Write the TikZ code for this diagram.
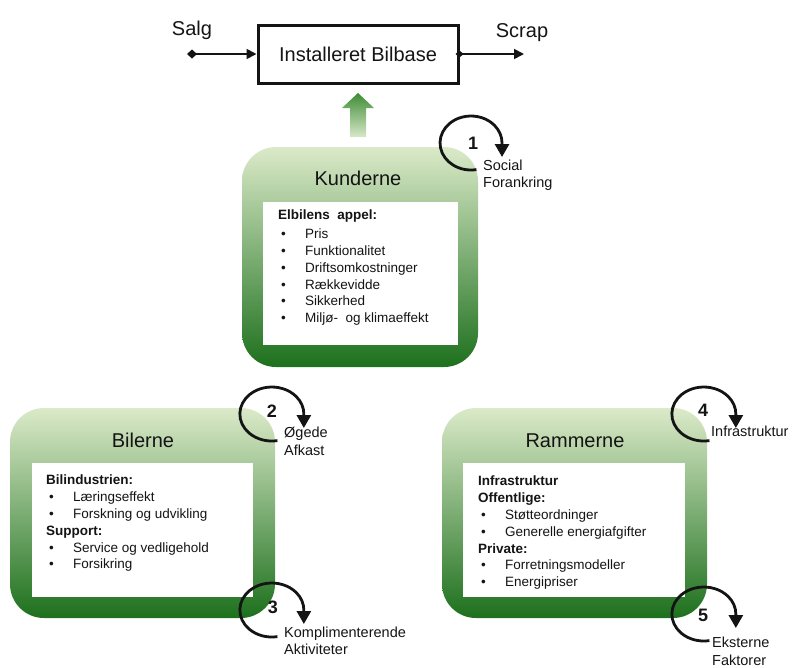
\documentclass[tikz,border=0pt]{standalone}
\usepackage{fontspec}
\setmainfont{Liberation Sans}
\usetikzlibrary{arrows.meta}
\definecolor{gtop}{RGB}{219,234,201}
\definecolor{gmid}{RGB}{158,200,120}
\definecolor{gbot}{RGB}{29,112,29}
\definecolor{atop}{RGB}{62,140,52}
\definecolor{abot}{RGB}{214,232,200}
\definecolor{ink}{RGB}{20,20,20}
\newcommand{\bul}{\hspace*{3pt}\makebox[24pt][l]{\textbullet}}
\begin{document}
\begin{tikzpicture}[x=1pt,y=-1pt,
  every node/.style={text=ink},
  panel/.style={rounded corners=34pt, top color=gtop, middle color=gmid, bottom color=gbot, draw=none, inner sep=0pt},
  whitebox/.style={fill=white, draw=none, inner sep=0pt},
  bigtext/.style={font=\fontsize{20}{24}\selectfont, inner sep=0pt},
  listtext/.style={font=\fontsize{13.5}{16.9}\selectfont, align=left, inner sep=0pt, anchor=north west},
  lbl/.style={font=\fontsize{14.5}{17.4}\selectfont, align=left, inner sep=0pt, anchor=north west},
  num/.style={font=\fontsize{18}{20}\selectfont\bfseries, inner sep=0pt},
  flow/.style={line width=1.8pt, draw=ink},
  loopc/.style={line width=2.8pt, draw=ink, -{Triangle[length=13pt,width=14pt]}}]
\useasboundingbox (0,0) rectangle (792,667);

% top stock box
\node[draw=ink, line width=3pt, minimum width=200pt, minimum height=58pt, font=\fontsize{20}{24}\selectfont] (bb) at (358,54) {Installeret Bilbase};
\node[bigtext, anchor=base] (salg) at (192,35) {Salg};
\node[bigtext, anchor=base] (scrap) at (522,37) {Scrap};
\coordinate (sin) at (187,54);
\coordinate (sout) at (524,54);
\draw[flow, {Diamond[length=10pt,width=9pt]}-{Triangle[length=10pt,width=10pt]}] (sin) -- (bb.west);
\draw[flow, {Diamond[length=8pt,width=7pt]}-{Triangle[length=10pt,width=10pt]}] ([xshift=-4pt]bb.east) -- (sout);

% green up arrow
\shade[top color=atop, bottom color=abot] (350,137) -- (350,108) -- (342,108) -- (358,93) -- (374,108) -- (366,108) -- (366,137) -- cycle;

% Kunderne
\node[panel, minimum width=236pt, minimum height=220pt] (kund) at (360,257) {};
\node[whitebox, minimum width=195pt, minimum height=143pt] (kbox) at (360.5,273.5) {};
\node[bigtext, anchor=base] (ktitle) at (358,185) {Kunderne};
\node[listtext] (klist) at (278,210) {\textbf{Elbilens\ \ appel:}\\[1.5pt]
\bul Pris\\
\bul Funktionalitet\\
\bul Driftsomkostninger\\
\bul Rækkevidde\\
\bul Sikkerhed\\
\bul Miljø-\ \ og klimaeffekt};

% Bilerne
\node[panel, minimum width=265pt, minimum height=210pt] (bil) at (142.5,513) {};
\node[whitebox, minimum width=221pt, minimum height=134pt] (bbox) at (142.5,530) {};
\node[bigtext, anchor=base] (btitle) at (143,447) {Bilerne};
\node[listtext] (blist) at (46,474.5) {\textbf{Bilindustrien:}\\
\bul Læringseffekt\\
\bul Forskning og udvikling\\
\textbf{Support:}\\
\bul Service og vedligehold\\
\bul Forsikring};

% Rammerne
\node[panel, minimum width=265pt, minimum height=210pt] (ram) at (574.5,513) {};
\node[whitebox, minimum width=222pt, minimum height=134pt] (rbox) at (574,530) {};
\node[bigtext, anchor=base] (rtitle) at (575,447) {Rammerne};
\node[listtext] (rlist) at (478,475.5) {\textbf{Infrastruktur}\\
\textbf{Offentlige:}\\
\bul Støtteordninger\\
\bul Generelle energiafgifter\\
\textbf{Private:}\\
\bul Forretningsmodeller\\
\bul Energipriser};

% loops
\draw[loopc, shift={(471,143)}] (5.4,26.6) arc[start angle=280, end angle=0, x radius=31pt, y radius=27pt] -- ++(0,14);
\draw[loopc, shift={(272,414)}] (5.4,26.6) arc[start angle=280, end angle=0, x radius=32pt, y radius=27pt] -- ++(0,14);
\draw[loopc, shift={(272,610)}] (5.4,26.6) arc[start angle=280, end angle=0, x radius=32pt, y radius=27pt] -- ++(0,14);
\draw[loopc, shift={(704,414)}] (5.4,26.6) arc[start angle=280, end angle=0, x radius=32pt, y radius=27pt] -- ++(0,14);
\draw[loopc, shift={(704,614)}] (5.4,26.6) arc[start angle=280, end angle=0, x radius=32pt, y radius=27pt] -- ++(0,14);

\node[num] (n1) at (473,143) {1};
\node[num] (n2) at (272,411) {2};
\node[num] (n3) at (273,607) {3};
\node[num] (n4) at (703,410) {4};
\node[num] (n5) at (703,615) {5};

\node[lbl] (l1) at (483,159.5) {Social\\Forankring};
\node[lbl] (l2) at (284,427) {Øgede\\Afkast};
\node[lbl] (l3) at (284,626.5) {Komplimenterende\\Aktiviteter};
\node[lbl] (l4) at (711,425.5) {Infrastruktur};
\node[lbl] (l5) at (712,637) {Eksterne\\Faktorer};
\end{tikzpicture}
\end{document}
